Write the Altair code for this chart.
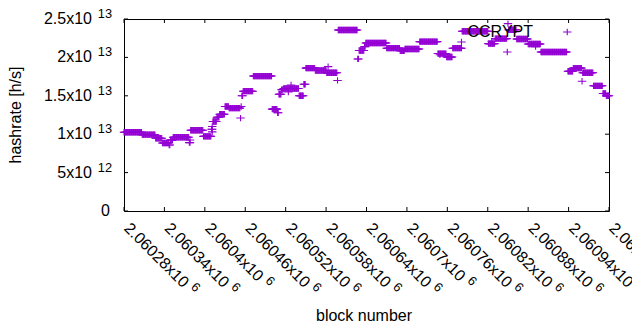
import altair as alt
import pandas as pd

# ---------------- data ----------------
BLOCK0 = 2060280
# runs of consecutive blocks with the same hashrate estimate: start offset and value
run_start = [0, 27, 47, 57, 67, 69, 73, 97, 99, 118, 130, 132, 138, 142, 150, 156,
             173, 174, 175, 177, 192, 220, 228, 230, 234, 237, 260, 267, 270, 284,
             301, 317, 318, 347, 349, 357, 359, 390, 410, 417, 439, 466, 479, 488,
             502, 541, 551, 569, 570, 571, 583, 600, 619, 658, 659, 667, 680, 681,
             697, 711, 716]
run_value = [1.025e13, 0.995e13, 0.948e13, 0.885e13, 0.86e13, 0.925e13, 0.96e13,
             0.89e13, 1.052e13, 0.972e13, 1.065e13, 1.165e13, 1.22e13, 1.26e13,
             1.36e13, 1.34e13, 1.21e13, 1.36e13, 1.5e13, 1.56e13, 1.757e13,
             1.326e13, 1.28e13, 1.52e13, 1.58e13, 1.595e13, 1.5e13, 1.65e13,
             1.86e13, 1.83e13, 1.8e13, 1.7e13, 2.357e13, 1.98e13, 2.09e13,
             2.14e13, 2.187e13, 2.12e13, 2.087e13, 2.11e13, 2.205e13, 2.05e13,
             2.005e13, 2.12e13, 2.34e13, 2.18e13, 2.245e13, 2.07e13, 2.44e13,
             2.36e13, 2.24e13, 2.175e13, 2.07e13, 2.33e13, 1.82e13, 1.86e13,
             1.69e13, 1.8e13, 1.63e13, 1.53e13, 1.5e13]
LAST_OFFSET = 720
# a few scattered points lying off the runs
extra_offset = [98, 131, 131, 244, 248, 303, 469, 501, 546, 611]
extra_value = [0.925e13, 1.03e13, 1.1e13, 1.55e13, 1.64e13, 1.88e13, 2.035e13,
               2.2e13, 2.21e13, 2.14e13]

x_tick_values = [2060280, 2060340, 2060400, 2060460, 2060520, 2060580, 2060640,
                 2060700, 2060760, 2060820, 2060880, 2060940, 2061000]
x_tick_base = ["2.06028x10", "2.06034x10", "2.0604x10", "2.06046x10", "2.06052x10",
               "2.06058x10", "2.06064x10", "2.0607x10", "2.06076x10", "2.06082x10",
               "2.06088x10", "2.06094x10", "2.061x10"]
x_tick_sup = ["6"] * 13

y_tick_values = [0, 5e12, 1e13, 1.5e13, 2e13, 2.5e13]
y_tick_base = ["0", "5x10", "1x10", "1.5x10", "2x10", "2.5x10"]
y_tick_sup = ["", "12", "13", "13", "13", "13"]

series_name = "CCRYPT"

# ---------------- build tables ----------------
blocks, values = [], []
ends = run_start[1:] + [LAST_OFFSET + 1]
for s, e, v in zip(run_start, ends, run_value):
    for b in range(s, e):
        blocks.append(BLOCK0 + b)
        values.append(v)
for b, v in zip(extra_offset, extra_value):
    blocks.append(BLOCK0 + b)
    values.append(v)
pts = pd.DataFrame({"block": blocks, "hashrate": values})

FONT = "Liberation Sans"
FS = 16
SUP_FS = 12.8
CW = {c: 0.556 for c in "0123456789"}
CW.update({".": 0.278, "x": 0.5})


def text_width(s):
    return sum(CW[c] for c in s) * FS


xt = pd.DataFrame({"v": x_tick_values, "base": x_tick_base, "sup": x_tick_sup,
                   "n": [len(s) for s in x_tick_base]})
yt = pd.DataFrame({"v": y_tick_values, "base": y_tick_base, "sup": y_tick_sup})

W, H = 485, 192
COLOR = "#9400D3"
xs = alt.Scale(domain=[2060280, 2061000], nice=False, zero=False)
ys = alt.Scale(domain=[0, 2.5e13], nice=False, zero=False)
X = alt.X("v:Q", scale=xs, axis=None)
Y = alt.Y("v:Q", scale=ys, axis=None)

points = alt.Chart(pts).mark_point(
    shape="M-1,0H1M0,-0.75V0.75", filled=False, stroke=COLOR, strokeWidth=1.1,
    size=72, opacity=1
).encode(
    x=alt.X("block:Q", scale=xs, axis=None),
    y=alt.Y("hashrate:Q", scale=ys, axis=None),
)

tick_len = 4
tb = alt.Chart(xt).mark_rule(color="black", strokeWidth=1).encode(
    x=X, y=alt.value(H), y2=alt.value(H - tick_len))
tt = alt.Chart(xt).mark_rule(color="black", strokeWidth=1).encode(
    x=X, y=alt.value(0), y2=alt.value(tick_len))
tl = alt.Chart(yt).mark_rule(color="black", strokeWidth=1).encode(
    y=Y, x=alt.value(0), x2=alt.value(tick_len))
tr = alt.Chart(yt).mark_rule(color="black", strokeWidth=1).encode(
    y=Y, x=alt.value(W), x2=alt.value(W - tick_len))

layers = [tb, tt, tl, tr, points]

# y tick labels
layers.append(alt.Chart(yt).transform_filter(alt.datum.sup != "").mark_text(
    align="right", baseline="middle", font=FONT, fontSize=FS, dx=-32, color="black"
).encode(y=Y, x=alt.value(0), text="base:N"))
layers.append(alt.Chart(yt).transform_filter(alt.datum.sup == "").mark_text(
    align="right", baseline="middle", font=FONT, fontSize=FS, dx=-14, color="black"
).encode(y=Y, x=alt.value(0), text="base:N"))
layers.append(alt.Chart(yt).transform_filter(alt.datum.sup != "").mark_text(
    align="right", baseline="middle", font=FONT, fontSize=SUP_FS, dx=-12, dy=-5,
    color="black"
).encode(y=Y, x=alt.value(0), text="sup:N"))

# x tick labels (rotated) with superscripts
LX_DX = 4
LX_Y = H + 12
layers.append(alt.Chart(xt).mark_text(
    align="left", baseline="middle", font=FONT, fontSize=FS, angle=45, dx=LX_DX,
    color="black"
).encode(x=X, y=alt.value(LX_Y), text="base:N"))
for n in sorted(set(xt["n"])):
    w = text_width(xt.loc[xt["n"] == n, "base"].iloc[0])
    layers.append(alt.Chart(xt).transform_filter(alt.datum.n == int(n)).mark_text(
        align="left", baseline="middle", font=FONT, fontSize=SUP_FS, angle=45,
        dx=LX_DX + w + 5, dy=-5, color="black"
    ).encode(x=X, y=alt.value(LX_Y), text="sup:N"))

# axis titles
layers.append(alt.Chart(pd.DataFrame({"t": ["block number"]})).mark_text(
    align="center", baseline="middle", font=FONT, fontSize=FS, color="black"
).encode(x=alt.value(240), y=alt.value(297), text="t:N"))
layers.append(alt.Chart(pd.DataFrame({"t": ["hashrate [h/s]"]})).mark_text(
    align="center", baseline="middle", font=FONT, fontSize=FS, angle=270,
    color="black"
).encode(x=alt.value(-108), y=alt.value(96), text="t:N"))

# key
layers.append(alt.Chart(pd.DataFrame({"t": [series_name]})).mark_text(
    align="right", baseline="middle", font=FONT, fontSize=FS, color="black"
).encode(x=alt.value(409), y=alt.value(13), text="t:N"))

chart = alt.layer(*layers).properties(
    width=W, height=H,
    padding={"left": 116, "top": 11, "right": 23, "bottom": 111},
    autosize="none",
).configure_view(stroke="black", strokeWidth=1)

chart.save("out.html", embed_options={"renderer": "svg", "actions": False})
